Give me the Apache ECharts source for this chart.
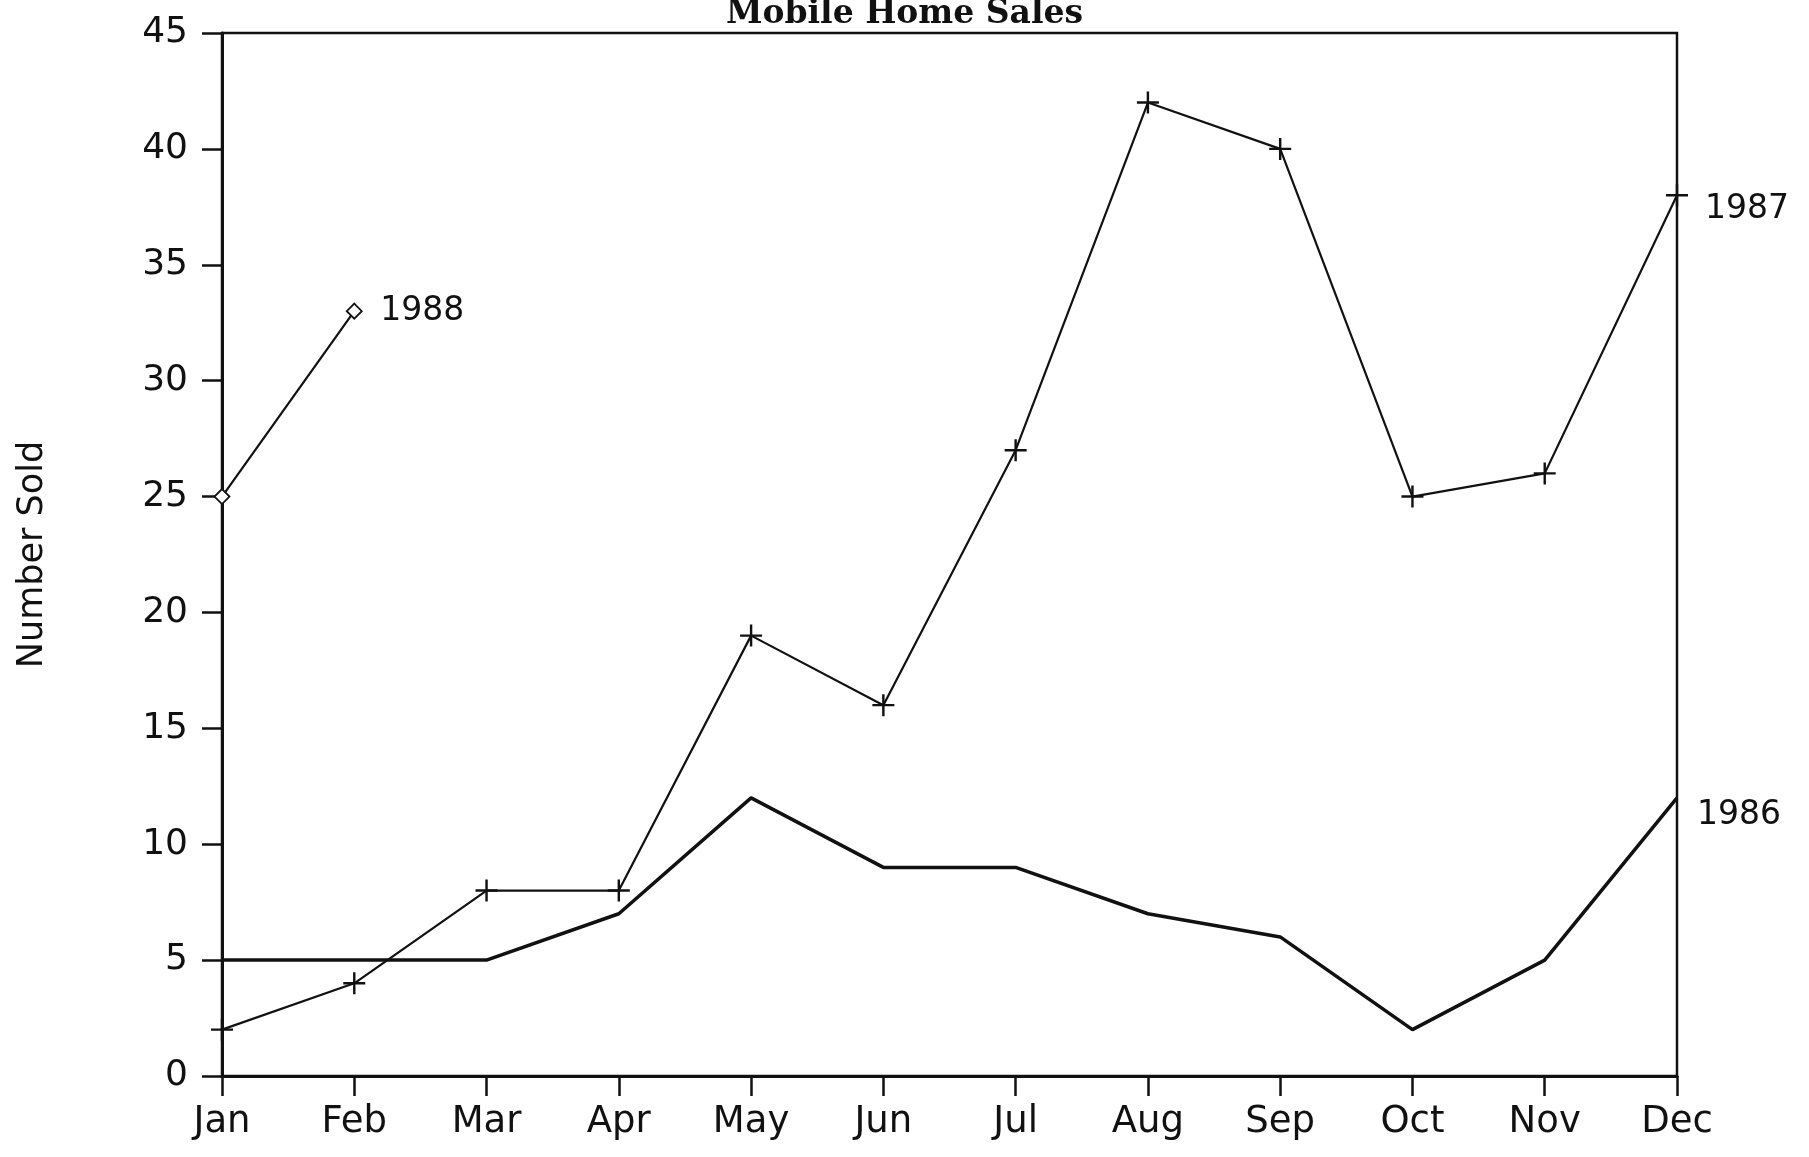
<!DOCTYPE html>
<html>
<head>
<meta charset="utf-8">
<script src="https://cdn.jsdelivr.net/npm/echarts@6/dist/echarts.min.js"></script>
<style>
  html, body { margin: 0; padding: 0; background: #fff; }
  #chart { width: 1809px; height: 1157px; }
</style>
</head>
<body>
<div id="chart"></div>
<script>
// 月份
var months = ['Jan', 'Feb', 'Mar', 'Apr', 'May', 'Jun', 'Jul', 'Aug', 'Sep', 'Oct', 'Nov', 'Dec']
// 各年销量
var sales1986 = [5, 5, 5, 7, 12, 9, 9, 7, 6, 2, 5, 12]
var sales1987 = [2, 4, 8, 8, 19, 16, 27, 42, 40, 25, 26, 38]
var sales1988 = [25, 33]
var yTicks = [0, 5, 10, 15, 20, 25, 30, 35, 40, 45]

var font = 'DejaVu Sans'
var plus = 'path://M0,4.45 H10 V5.55 H0 Z M4.45,0 H5.55 V10 H4.45 Z'

var chart = echarts.init(document.getElementById('chart'))
var option = {
  backgroundColor: '#fff',
  animation: false,
  title: {
    text: 'Mobile Home Sales',
    left: 'center',
    top: -7,
    textStyle: { fontFamily: 'DejaVu Serif', fontWeight: 'bold', fontSize: 33, color: '#111' }
  },
  grid: {
    left: 222, right: 132, top: 33, bottom: 81,
    show: true, borderColor: '#111', borderWidth: 2.5, backgroundColor: 'transparent'
  },
  xAxis: {
    type: 'category',
    data: months,
    boundaryGap: false,
    axisLine: { lineStyle: { color: '#111', width: 3 } },
    axisTick: { alignWithLabel: true, length: 20, lineStyle: { color: '#111', width: 2.5 } },
    axisLabel: { color: '#111', fontFamily: font, fontSize: 37, margin: 28 },
    splitLine: { show: false }
  },
  yAxis: {
    type: 'value',
    min: yTicks[0],
    max: yTicks[yTicks.length - 1],
    interval: 5,
    name: 'Number Sold',
    nameLocation: 'middle',
    nameGap: 172,
    nameRotate: 90,
    nameTextStyle: { color: '#111', fontFamily: font, fontSize: 35 },
    axisLine: { show: true, lineStyle: { color: '#111', width: 3 } },
    axisTick: { show: true, length: 20, lineStyle: { color: '#111', width: 2.5 } },
    axisLabel: { color: '#111', fontFamily: font, fontSize: 36, margin: 34 },
    splitLine: { show: false }
  },
  series: [
    {
      name: '1986',
      type: 'line',
      data: sales1986,
      showSymbol: false,
      symbol: 'none',
      lineStyle: { color: '#111', width: 3.5 },
      endLabel: { show: true, formatter: '{a}', color: '#111', fontFamily: font, fontSize: 33, offset: [12, 18] }
    },
    {
      name: '1987',
      type: 'line',
      data: sales1987,
      symbol: plus,
      symbolSize: 22,
      itemStyle: { color: '#111' },
      lineStyle: { color: '#111', width: 2.2 },
      endLabel: { show: true, formatter: '{a}', color: '#111', fontFamily: font, fontSize: 33, offset: [20, 14] }
    },
    {
      name: '1988',
      type: 'line',
      data: sales1988,
      symbol: 'diamond',
      symbolSize: 15,
      itemStyle: { color: '#fff', borderColor: '#111', borderWidth: 1.8 },
      lineStyle: { color: '#111', width: 2.2 },
      endLabel: { show: true, formatter: '{a}', color: '#111', fontFamily: font, fontSize: 33, offset: [18, 0] }
    }
  ]
}
chart.setOption(option)
</script>
</body>
</html>
